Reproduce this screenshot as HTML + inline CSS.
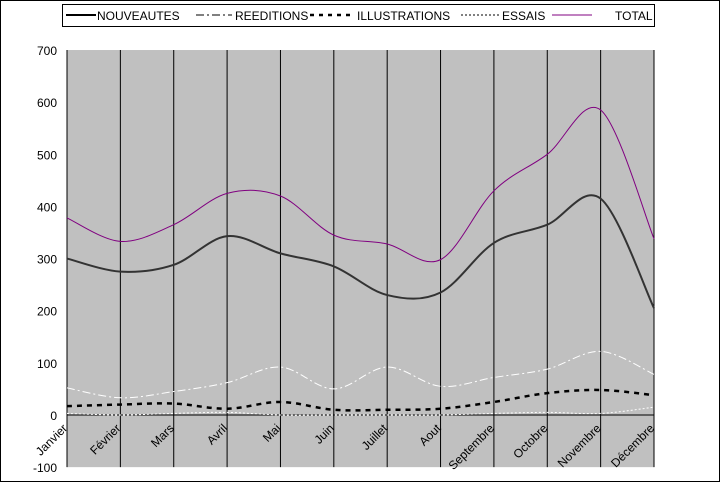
<!DOCTYPE html>
<html><head><meta charset="utf-8"><style>
body{margin:0;background:#fff}
svg{display:block;font-family:"Liberation Sans",Arial,sans-serif}
</style></head><body>
<svg width="720" height="482" xmlns="http://www.w3.org/2000/svg">
<rect x="0.5" y="0.5" width="719" height="481" fill="#fff" stroke="#000"/>
<g id="plot"></g>
<g>
<rect x="62.5" y="4.5" width="592" height="22" fill="#fff" stroke="#000"/>
<line x1="66" y1="15" x2="96" y2="15" stroke="#000" stroke-width="2"/>
<text x="97" y="20" font-size="12">NOUVEAUTES</text>
<line x1="196" y1="15" x2="232" y2="15" stroke="#000" stroke-dasharray="8,3,2,3"/>
<text x="235" y="20" font-size="12">REEDITIONS</text>
<line x1="310" y1="15" x2="355" y2="15" stroke="#000" stroke-width="2.5" stroke-dasharray="4,5"/>
<text x="357" y="20" font-size="12">ILLUSTRATIONS</text>
<line x1="461" y1="15" x2="499" y2="15" stroke="#000" stroke-dasharray="2,2"/>
<text x="502" y="20" font-size="12">ESSAIS</text>
<line x1="552" y1="15" x2="592" y2="15" stroke="#800080"/>
<text x="615" y="20" font-size="12">TOTAL</text>
</g>
</svg>
<script>
const months=["Janvier","Février","Mars","Avril","Mai","Juin","Juillet","Aout","Septembre","Octobre","Novembre","Décembre"];
const nouveautes=[300,275,288,343,310,285,230,235,330,365,415,205];
const reeditions=[52,33,45,62,92,50,92,55,72,88,122,78];
const illustrations=[17,20,22,12,25,10,10,12,25,42,48,38];
const essais=[3,0,3,5,0,0,0,0,3,5,3,15];
const total=[378,333,365,425,420,345,328,298,430,500,585,338];
const yTicks=[-100,0,100,200,300,400,500,600,700];
const X0=67,X1=654,Y0=415,PX=0.5214;
const xs=i=>X0+i*(X1-X0)/(months.length-1);
const ys=v=>Y0-v*PX;
const NS="http://www.w3.org/2000/svg";
const g=document.getElementById('plot');
function mk(t,a){const e=document.createElementNS(NS,t);for(const k in a)e.setAttribute(k,a[k]);g.appendChild(e);return e;}
const bg=mk('rect',{x:X0,y:ys(700),width:X1-X0,height:ys(-100)-ys(700),fill:'#c0c0c0'});


months.forEach((m,i)=>{
 if(i>0){const l=mk('line',{x1:xs(i),y1:ys(700),x2:xs(i),y2:ys(-100),stroke:'#000'});
 
 }
 const x=xs(i)+1,y=ys(0)+14;
 const t=mk('text',{x:x,y:y,'font-size':'12','text-anchor':'end',transform:`rotate(-45 ${x} ${y})`});
 t.textContent=m;
 
 
});
const z=mk('line',{x1:X0,y1:ys(0),x2:X1,y2:ys(0),stroke:'#000'});


const ax=mk('line',{x1:X0,y1:ys(700),x2:X0,y2:ys(-100),stroke:'#000'});


yTicks.forEach(v=>{
 const t=mk('text',{x:X0-10,y:ys(v)+5,'font-size':'12','text-anchor':'end'});
 t.textContent=v;
 
 
});
function path(vals){
 const p=vals.map((v,i)=>[xs(i),ys(v)]);
 let d=`M${p[0][0]},${p[0][1]}`;
 for(let i=0;i<p.length-1;i++){
  const a=p[Math.max(i-1,0)],b=p[i],c=p[i+1],e=p[Math.min(i+2,p.length-1)];
  const c1=[b[0]+(c[0]-a[0])/6,b[1]+(c[1]-a[1])/6],c2=[c[0]-(e[0]-b[0])/6,c[1]-(e[1]-b[1])/6];
  d+=` C${c1[0]},${c1[1]} ${c2[0]},${c2[1]} ${c[0]},${c[1]}`;
 }
 return d;
}
function series(vals,name,attrs){
 const e=mk('path',Object.assign({d:path(vals),fill:'none'},attrs));
 
 
}
series(essais,'series-essais',{stroke:'#fff','stroke-dasharray':'2,2'});
series(illustrations,'series-illustrations',{stroke:'#000','stroke-width':'2.5','stroke-dasharray':'5,5'});
series(reeditions,'series-reeditions',{stroke:'#fff','stroke-dasharray':'8,3,2,3'});
series(nouveautes,'series-nouveautes',{stroke:'#333','stroke-width':'2'});
series(total,'series-total',{stroke:'#800080'});
</script>
</body></html>
